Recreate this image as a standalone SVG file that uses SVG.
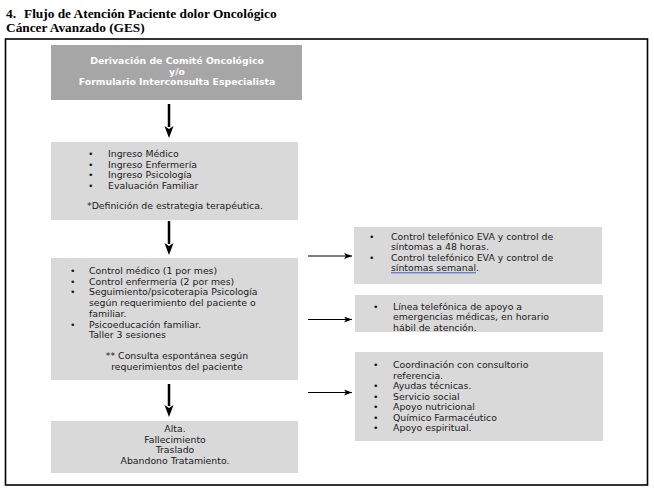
<svg xmlns="http://www.w3.org/2000/svg" width="654" height="494" viewBox="0 0 654 494">
<defs>
<style>
.t{font-family:"DejaVu Sans",Verdana,sans-serif;font-size:9.33px;fill:#1a1a1a}
.b{font-weight:bold;fill:#ffffff}
.c{text-anchor:middle}
.ttl{font-family:"Liberation Serif","Times New Roman",serif;font-weight:bold;font-size:13.33px;fill:#000}
.box{fill:#d9d9d9}
.dark{fill:#a6a6a6}
.v{stroke:#000;stroke-width:2.5;fill:none}
.h{stroke:#000;stroke-width:1;fill:none}
</style>
<marker id="ah" markerWidth="8" markerHeight="6" refX="8" refY="3" orient="auto" markerUnits="userSpaceOnUse">
<path d="M0,0 L8,3 L0,6 L2,3 Z" fill="#000"/>
</marker>
</defs>
<rect width="654" height="494" fill="#fff"/>
<text class="ttl" x="6" y="18">4.</text>
<text class="ttl" x="24" y="18">Flujo de Atención Paciente dolor Oncológico</text>
<text class="ttl" x="6" y="32">Cáncer Avanzado (GES)</text>
<rect x="5.5" y="39" width="642" height="446" fill="none" stroke="#000" stroke-width="1.6"/>

<g id="connectors">
<line class="v" x1="169" y1="104" x2="169" y2="127"/>
<path d="M164.5,126 L169,129 L173.5,126 L169,138 Z" fill="#000"/>
<line class="v" x1="169" y1="221" x2="169" y2="244"/>
<path d="M164.5,243 L169,246 L173.5,243 L169,255 Z" fill="#000"/>
<line class="v" x1="169" y1="384" x2="169" y2="406"/>
<path d="M164.5,405 L169,408 L173.5,405 L169,417 Z" fill="#000"/>
<line class="h" x1="308" y1="256" x2="352" y2="256" marker-end="url(#ah)"/>
<line class="h" x1="308" y1="319.5" x2="352" y2="319.5" marker-end="url(#ah)"/>
<line class="h" x1="308" y1="392.5" x2="352" y2="392.5" marker-end="url(#ah)"/>
</g>

<g id="n1">
<rect class="dark" x="51" y="45" width="251" height="55"/>
<text class="t b c" x="177" y="64">Derivación de Comité Oncológico</text>
<text class="t b c" x="177" y="74.5">y/o</text>
<text class="t b c" x="177" y="85">Formulario Interconsulta Especialista</text>
</g>

<g id="n2">
<rect class="box" x="51" y="142" width="247" height="78"/>
<text class="t" x="88" y="157">•</text><text class="t" x="108" y="157">Ingreso Médico</text>
<text class="t" x="88" y="167.7">•</text><text class="t" x="108" y="167.7">Ingreso Enfermería</text>
<text class="t" x="88" y="178.4">•</text><text class="t" x="108" y="178.4">Ingreso Psicología</text>
<text class="t" x="88" y="189.1">•</text><text class="t" x="108" y="189.1">Evaluación Familiar</text>
<text class="t" x="87" y="209">*Definición de estrategia terapéutica.</text>
</g>

<g id="n3">
<rect class="box" x="51" y="258" width="247" height="122"/>
<text class="t" x="70" y="274">•</text><text class="t" x="89" y="274">Control médico (1 por mes)</text>
<text class="t" x="70" y="284.7">•</text><text class="t" x="89" y="284.7">Control enfermería (2 por mes)</text>
<text class="t" x="70" y="295.4">•</text><text class="t" x="89" y="295.4">Seguimiento/psicoterapia Psicología</text>
<text class="t" x="89" y="306.1">según requerimiento del paciente o</text>
<text class="t" x="89" y="316.8">familiar.</text>
<text class="t" x="70" y="327.5">•</text><text class="t" x="89" y="327.5">Psicoeducación familiar.</text>
<text class="t" x="89" y="338.2">Taller 3 sesiones</text>
<text class="t c" x="177" y="358.5">** Consulta espontánea según</text>
<text class="t c" x="177" y="369.5">requerimientos del paciente</text>
</g>

<g id="n4">
<rect class="box" x="51" y="421" width="247" height="52"/>
<text class="t c" x="175" y="432">Alta.</text>
<text class="t c" x="175" y="442.7">Fallecimiento</text>
<text class="t c" x="175" y="453.4">Traslado</text>
<text class="t c" x="175" y="464.1">Abandono Tratamiento.</text>
</g>

<g id="n5">
<rect class="box" x="354" y="227" width="248" height="57"/>
<text class="t" x="369" y="239.5">•</text><text class="t" x="391" y="239.5">Control telefónico EVA y control de</text>
<text class="t" x="391" y="250">síntomas a 48 horas.</text>
<text class="t" x="369" y="260.5">•</text><text class="t" x="391" y="260.5">Control telefónico EVA y control de</text>
<text class="t" x="391" y="271">síntomas semanal.</text>
<line x1="391" y1="272.8" x2="476" y2="272.8" stroke="#3a5fcd" stroke-width="1"/>
</g>

<g id="n6">
<rect class="box" x="355" y="295" width="248" height="37"/>
<text class="t" x="373" y="309.5">•</text><text class="t" x="393" y="309.5">Línea telefónica de apoyo a</text>
<text class="t" x="393" y="320">emergencias médicas, en horario</text>
<text class="t" x="393" y="330.5">hábil de atención.</text>
</g>

<g id="n7">
<rect class="box" x="355" y="352" width="248" height="89"/>
<text class="t" x="373" y="368">•</text><text class="t" x="393" y="368">Coordinación con consultorio</text>
<text class="t" x="393" y="378.5">referencia.</text>
<text class="t" x="373" y="389">•</text><text class="t" x="393" y="389">Ayudas técnicas.</text>
<text class="t" x="373" y="399.5">•</text><text class="t" x="393" y="399.5">Servicio social</text>
<text class="t" x="373" y="410">•</text><text class="t" x="393" y="410">Apoyo nutricional</text>
<text class="t" x="373" y="420.5">•</text><text class="t" x="393" y="420.5">Químico Farmacéutico</text>
<text class="t" x="373" y="431">•</text><text class="t" x="393" y="431">Apoyo espiritual.</text>
</g>
</svg>
